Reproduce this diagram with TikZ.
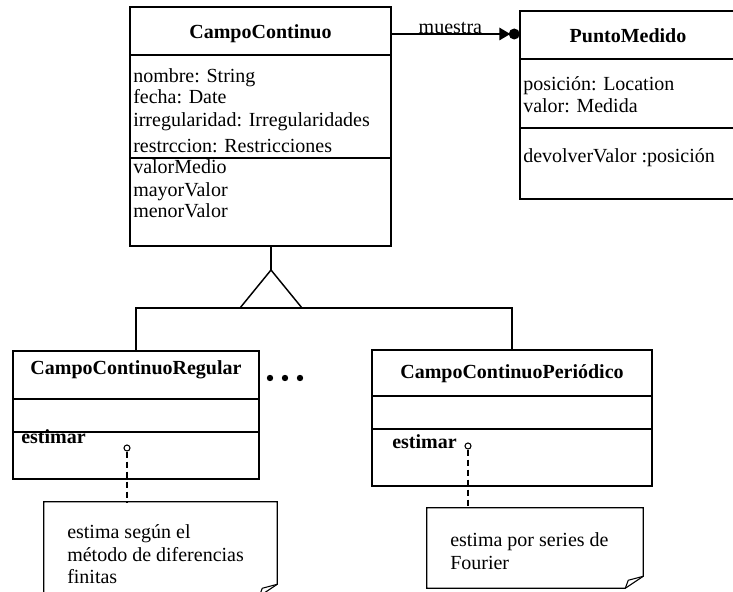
\documentclass[tikz,border=0pt]{standalone}
\usepackage{fontspec}
\setmainfont{Liberation Serif}
\usetikzlibrary{fit,calc}
\newcommand\umlfont{\fontsize{15}{18}\selectfont}
\begin{document}
\begin{tikzpicture}[x=0.75pt,y=-0.75pt,
  box/.style={draw, line width=1.1pt, inner sep=0pt},
  sep/.style={line width=1.1pt},
  title/.style={anchor=base, inner sep=0pt, font=\umlfont\bfseries},
  item/.style={anchor=base west, inner sep=0pt, font=\umlfont},
  opname/.style={anchor=base west, inner sep=0pt, font=\umlfont\bfseries},
  notebox/.style={inner sep=0pt},
  noteline/.style={line width=0.8pt, line join=miter},
  notetext/.style={anchor=base west, inner sep=0pt, font=\umlfont},
  pin/.style={circle, draw, line width=0.8pt, inner sep=0pt, minimum size=4.5pt, fill=white},
  tether/.style={line width=0.9pt, dash pattern=on 4.5pt off 3pt},
  link/.style={line width=1.1pt}]

\path[use as bounding box, fill=white] (0,0) rectangle (733,592);
\clip (0,0) rectangle (733,592);

% ---- CampoContinuo ----
\node[box, fit={(130,7) (391,246)}] (cc) {};
\draw[sep] (cc.west |- 0,55) -- (cc.east |- 0,55);
\draw[sep] (cc.west |- 0,158) -- (cc.east |- 0,158);
\node[title] (ccT) at (260.5,39) {CampoContinuo};
\node[item] (cc1) at (133,83) {nombre: String};
\node[item] (cc2) at (133,104) {fecha: Date};
\node[item] (cc3) at (133,127) {irregularidad: Irregularidades};
\node[item] (cc4) at (133,152) {restrccion: Restricciones};
\node[item] (cc5) at (133,174) {valorMedio};
\node[item] (cc6) at (133,196) {mayorValor};
\node[item] (cc7) at (133,218) {menorValor};

% ---- PuntoMedido ----
\node[box, fit={(520,11) (736,199)}] (pm) {};
\draw[sep] (pm.west |- 0,59) -- (pm.east |- 0,59);
\draw[sep] (pm.west |- 0,128) -- (pm.east |- 0,128);
\node[title] (pmT) at (628,43) {PuntoMedido};
\node[item] (pm1) at (523,91) {posición: Location};
\node[item] (pm2) at (523,113) {valor: Medida};
\node[item] (pm3) at (523,163) {devolverValor :posición};

% ---- association "muestra" ----
\coordinate (mA) at (cc.east |- 0,34);
\coordinate (mB) at (pm.west |- 0,34);
\draw[link] (mA) -- (mB)
  node[pos=0.46, anchor=base, inner sep=0pt, yshift=0.6pt, font=\umlfont] (mLbl) {muestra};
\fill[shift={(mB)}] (-20,-6.5) -- (-20,6.5) -- (-9,0) -- cycle
                    (-5,0) circle[radius=5.5];

% ---- subclasses ----
\node[box, fit={(13,351) (259,479)}] (ccr) {};
\draw[sep] (ccr.west |- 0,399) -- (ccr.east |- 0,399);
\draw[sep] (ccr.west |- 0,432) -- (ccr.east |- 0,432);
\node[title] (ccrT) at (136,374) {CampoContinuoRegular};
\node[opname] (ccrOp) at (21,443) {estimar};

\node[box, fit={(372,350) (652,486)}] (ccp) {};
\draw[sep] (ccp.west |- 0,396) -- (ccp.east |- 0,396);
\draw[sep] (ccp.west |- 0,429) -- (ccp.east |- 0,429);
\node[title] (ccpT) at (512,378) {CampoContinuoPeriódico};
\node[opname] (ccpOp) at (392,448) {estimar};

% ellipsis between the subclasses
\fill (270,378) circle[radius=3.2] (285,378) circle[radius=3.2] (300,378) circle[radius=3.2];

% ---- generalization ----
\coordinate (apex) at (271,270);
\coordinate (bus) at (0,308);
\draw[link] (apex |- cc.south) -- (apex);
\draw[link, line join=miter] (apex) -- (240,308) -- (302,308) -- cycle;
\draw[link] (ccr.north) -- (ccr.north |- bus) -- (ccp.north |- bus) -- (ccp.north);

% ---- notes ----
\node[notebox, fit={(44,502) (277,596)}] (n1) {};
\node[notebox, fit={(427,508) (643,588)}] (n2) {};
\foreach \n in {n1,n2}{
  \draw[noteline] (\n.north west) -- (\n.north east) -- ($(\n.south east)+(0,-12)$)
    -- ($(\n.south east)+(-18,0)$) -- (\n.south west) -- cycle;
  \draw[noteline] ($(\n.south east)+(0,-12)$) -- ($(\n.south east)+(-15,-8)$)
    -- ($(\n.south east)+(-18,0)$);
}
\node[notetext] (n1a) at (67,538) {estima según el};
\node[notetext] (n1b) at (67,561) {método de diferencias};
\node[notetext] (n1c) at (67,583) {finitas};
\node[notetext] (n2a) at (450,546) {estima por series de};
\node[notetext] (n2b) at (450,569) {Fourier};

\node[pin] (p1) at (127,448) {};
\node[pin] (p2) at (468,446) {};
\draw[tether] (p1) -- (p1 |- n1.north);
\draw[tether] (p2) -- (p2 |- n2.north);
\end{tikzpicture}
\end{document}
